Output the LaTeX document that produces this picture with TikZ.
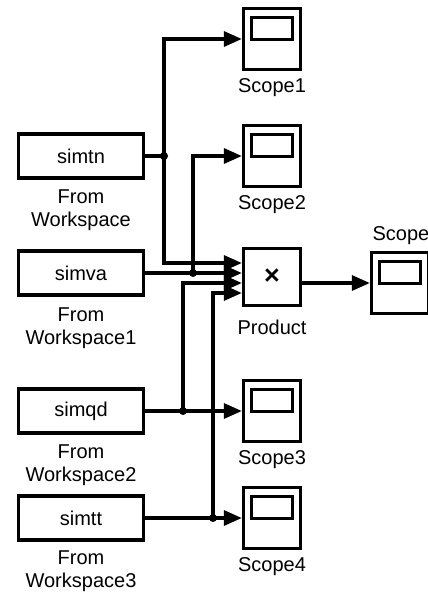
\documentclass[tikz,border=0pt]{standalone}
\usepackage{fontspec}
\setmainfont{Liberation Sans}
\usetikzlibrary{arrows.meta}
\begin{document}
\begin{tikzpicture}[x=1pt,y=-1pt,
  every node/.style={font=\fontsize{20}{23}\selectfont},
  blk/.style={draw, line width=3.3pt, inner sep=0pt},
  wsbox/.style={blk, minimum width=125pt, minimum height=44pt},
  scopebox/.style={blk, minimum width=57pt, minimum height=61pt,
    path picture={\draw[line width=3.3pt]
      ([xshift=8pt,yshift=-9pt]path picture bounding box.north west) rectangle
      ([xshift=-8pt,yshift=-31pt]path picture bounding box.north east);}},
  prodbox/.style={blk, minimum size=57pt},
  lbl/.style={align=center, inner sep=0pt},
  wire/.style={line width=3.3pt},
  sig/.style={wire, -{Triangle[length=18pt,width=15pt]}},
  jdot/.style={circle, fill, inner sep=0pt, minimum size=8pt}
]
\useasboundingbox (0,0) rectangle (428,594);

% source blocks
\node[wsbox] (simtn) at (81,156) {simtn};
\node[wsbox] (simva) at (81,273) {simva};
\node[wsbox] (simqd) at (81,411) {simqd};
\node[wsbox] (simtt) at (81,518) {simtt};
\node[lbl, anchor=north] (lsimtn) at (81,190) {From\\Workspace};
\node[lbl, anchor=north] (lsimva) at (81,308) {From\\Workspace1};
\node[lbl, anchor=north] (lsimqd) at (81,445) {From\\Workspace2};
\node[lbl, anchor=north] (lsimtt) at (81,551) {From\\Workspace3};

% product block
\node[prodbox] (prod) at (272,277) {\fontsize{27}{27}\selectfont\textbf{×}};
\node[lbl] (lprod) at (272,327) {Product};
\coordinate (in1) at ([yshift=14pt]prod.west);
\coordinate (in2) at ([yshift=4pt]prod.west);
\coordinate (in3) at ([yshift=-6pt]prod.west);
\coordinate (in4) at ([yshift=-16pt]prod.west);

% scopes
\node[scopebox] (scope1) at (272,39) {};
\node[lbl] (lscope1) at (272,88) {Scope1};
\node[scopebox] (scope2) at (272,156) {};
\node[lbl] (lscope2) at (272,205) {Scope2};
\node[scopebox] (scope3) at (272,411) {};
\node[lbl] (lscope3) at (272,460) {Scope3};
\node[scopebox] (scope4) at (272,518) {};
\node[lbl] (lscope4) at (272,567) {Scope4};
\node[scopebox] (scope) at (400,283) {};
\node[lbl] (lscope) at (401,236) {Scope};

% branch points
\node[jdot] (j1) at (164,156) {};
\node[jdot] (j2) at (193,273) {};
\node[jdot] (j3) at (183,411) {};
\node[jdot] (j4) at (213,518) {};

% signal lines
\draw[wire] (simtn.east) -- (j1.center);
\draw[sig] (j1.center) |- (scope1.west);
\draw[sig] (j1.center) |- (in1);

\draw[sig] (simva.east) -- (in2);
\draw[sig] (j2.center) |- (scope2.west);

\draw[sig] (simqd.east) -- (scope3.west);
\draw[sig] (j3.center) |- (in3);

\draw[sig] (simtt.east) -- (scope4.west);
\draw[sig] (j4.center) |- (in4);

\draw[sig] (prod.east |- scope.west) -- (scope.west);
\end{tikzpicture}
\end{document}
